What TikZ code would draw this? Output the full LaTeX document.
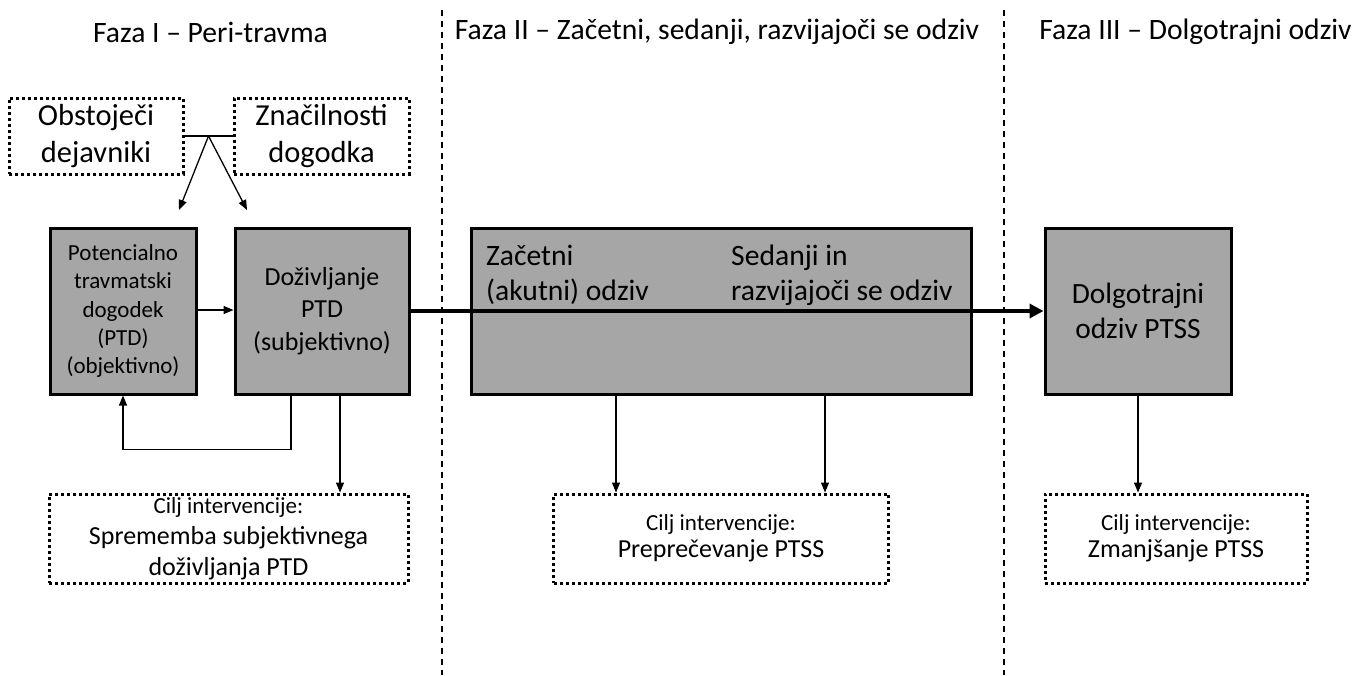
\documentclass[tikz,border=0pt]{standalone}
\usepackage{fontspec}
\setmainfont{Carlito}
\usetikzlibrary{arrows.meta,calc}
\definecolor{boxgray}{HTML}{A6A6A6}
\begin{document}
\begin{tikzpicture}[x=1pt,y=-1pt,
 gbox/.style={draw=black, line width=3pt, fill=boxgray, inner sep=0pt, align=center},
 dbox/.style={draw=black, line width=3pt, dash pattern=on 3pt off 3pt, fill=white, inner sep=0pt, align=center},
 arr/.style={line width=1.3pt, -{Triangle[length=10pt,width=8pt]}},
 thinline/.style={line width=1.3pt},
 thickarr/.style={line width=4.5pt, -{Triangle[length=14pt,width=14pt]}},
 phase/.style={draw=black, line width=1.1pt, dash pattern=on 6pt off 5pt},
 title/.style={font=\fontsize{29.6}{35}\selectfont, inner sep=0pt},
]
\useasboundingbox (0,0) rectangle (1371,675);

% phase separators
\coordinate (s1t) at (442,10); \coordinate (s1b) at (442,675);
\coordinate (s2t) at (1004,10); \coordinate (s2b) at (1004,675);
\draw[phase] (s1t) -- (s1b);
\draw[phase] (s2t) -- (s2b);

% titles
\node[title] (t1) at (210.5,32) {Faza I – Peri-travma};
\node[title] (t2) at (717,32) {Faza II – Začetni, sedanji, razvijajoči se odziv};
\node[title] (t3) at (1195.5,32) {Faza III – Dolgotrajni odziv};

% top dotted boxes
\node[dbox, minimum width=174pt, minimum height=76pt, font=\fontsize{30.5}{37}\selectfont] (obst) at (96,136) {Obstoječi\\dejavniki};
\node[dbox, minimum width=175pt, minimum height=76pt, font=\fontsize{30.5}{37}\selectfont] (znac) at (321.5,136) {Značilnosti\\dogodka};

% grey boxes
\node[gbox, minimum width=146pt, minimum height=166pt, font=\fontsize{23}{28.3}\selectfont] (ptd) at (123,311) {Potencialno\\travmatski\\dogodek\\(PTD)\\(objektivno)};
\node[gbox, minimum width=174pt, minimum height=166pt, font=\fontsize{26}{32.5}\selectfont] (doz) at (322,311) {Doživljanje\\PTD\\(subjektivno)};
\node[gbox, minimum width=500pt, minimum height=166pt] (zac) at (721,311) {};
\node[anchor=west, align=left, inner sep=0pt, font=\fontsize{29.6}{35}\selectfont] (zac1) at (486,275) {Začetni\\(akutni) odziv};
\node[anchor=west, align=left, inner sep=0pt, font=\fontsize{29.6}{35}\selectfont] (zac2) at (731,275) {Sedanji in\\razvijajoči se odziv};
\node[gbox, minimum width=186pt, minimum height=166pt, font=\fontsize{29.4}{35}\selectfont] (dolg) at (1138,311) {Dolgotrajni\\odziv PTSS};

% bottom dotted boxes
\node[dbox, minimum width=359pt, minimum height=89pt, font=\fontsize{26}{31}\selectfont] (cilj1) at (228.5,538.5) {{\fontsize{23}{28}\selectfont Cilj intervencije:}\\Sprememba subjektivnega\\doživljanja PTD};
\node[dbox, minimum width=335pt, minimum height=89pt, font=\fontsize{26}{31}\selectfont] (cilj2) at (721,538.5) {{\fontsize{23}{28}\selectfont Cilj intervencije:}\\[-4pt]Preprečevanje PTSS};
\node[dbox, minimum width=262pt, minimum height=89pt, font=\fontsize{26}{31}\selectfont] (cilj3) at (1176,538.5) {{\fontsize{23}{28}\selectfont Cilj intervencije:}\\[-4pt]Zmanjšanje PTSS};

% connectors at top
\coordinate (apex) at ($(obst.east)!0.5!(znac.west)$);
\coordinate (tip1) at (179,210);
\coordinate (tip2) at (247,210);
\draw[thinline] (obst.east) -- (znac.west);
\draw[arr] (apex) -- (tip1);
\draw[arr] (apex) -- (tip2);

% PTD -> Dozivljanje
\draw[arr] (ptd.east |- 0,310) -- (doz.west |- 0,310);

% feedback
\draw[arr] ([xshift=-31pt]doz.south) -- ++(0,54) -| (ptd.south);

% down arrows
\draw[arr] ([xshift=18pt]doz.south) -- ([xshift=18pt]doz.south |- cilj1.north);
\draw[arr] ([xshift=-105pt]zac.south) -- ([xshift=-105pt]zac.south |- cilj2.north);
\draw[arr] ([xshift=104pt]zac.south) -- ([xshift=104pt]zac.south |- cilj2.north);
\draw[arr] (dolg.south) -- (dolg.south |- cilj3.north);

% main thick arrow
\draw[thickarr] (doz.east) -- (dolg.west);
\end{tikzpicture}
\end{document}
